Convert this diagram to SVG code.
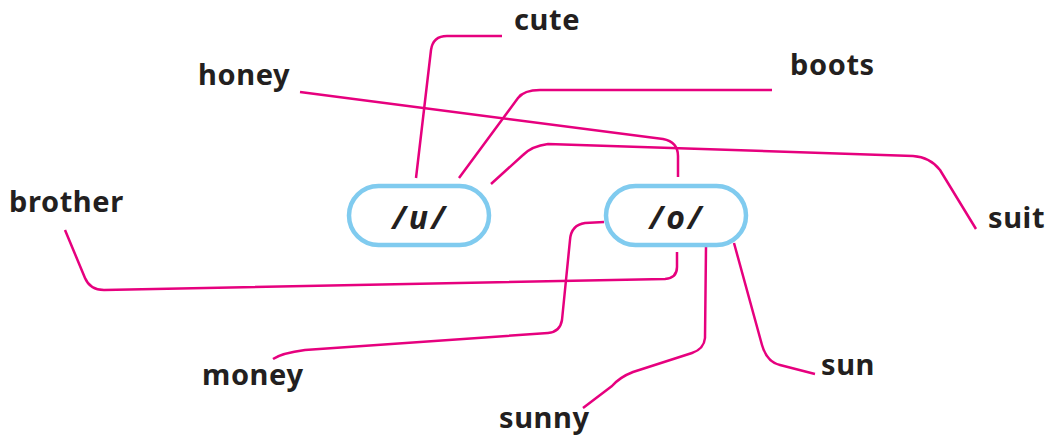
<svg xmlns="http://www.w3.org/2000/svg" width="1051" height="441" viewBox="0 0 1051 441">
<style>
.lbl{font-family:"Noto Sans","Open Sans",sans-serif;font-weight:700;font-size:29px;letter-spacing:0.6px;fill:#231f20}
.ph{font-family:"Noto Sans","Open Sans",sans-serif;font-weight:700;font-style:italic;font-size:32px;fill:#231f20;text-anchor:middle;letter-spacing:3px}
.pill{fill:#fff;stroke:#80cbef;stroke-width:4.5}
.c{fill:none;stroke:#e6007e;stroke-width:2.5;stroke-linecap:butt;stroke-linejoin:round}
</style>
<rect width="1051" height="441" fill="#fff"/>
<g id="connectors">
<path class="c" d="M416,178 L431,50 Q433,36 447,36 L502,36"/>
<path class="c" d="M459,178 L518,98 Q524,90 540,90 L772,90"/>
<path class="c" d="M491,184 L523,155 Q532,146 548,144 L913,156 Q930,157 940,170 L976,229"/>
<path class="c" d="M300,92 L663,139 Q678,142 678,156 L678,177"/>
<path class="c" d="M65,230 L85,278 Q90,290 104,290 L665,279 Q677,278 677,267 L677,252"/>
<path class="c" d="M604,222 L585,223 Q571,225 570,240 L562,320 Q560,332 548,333 L305,350 Q282,353 273,359"/>
<path class="c" d="M706,247 L705,338 Q704,349 692,353 L633,372 Q620,377 612,386 L583,408"/>
<path class="c" d="M734,243 L762,345 Q767,362 780,365 L815,374"/>
</g>
<g id="node-u">
<rect class="pill" x="349" y="186" width="140" height="59" rx="29.5"/>
<text class="ph" x="420" y="229">/u/</text>
</g>
<g id="node-o">
<rect class="pill" x="606" y="186" width="140" height="59" rx="29.5"/>
<text class="ph" x="677" y="229">/o/</text>
</g>
<g id="label-cute"><text class="lbl" x="514" y="30">cute</text></g>
<g id="label-honey"><text class="lbl" x="198" y="85">honey</text></g>
<g id="label-boots"><text class="lbl" x="790" y="75">boots</text></g>
<g id="label-brother"><text class="lbl" x="9" y="212">brother</text></g>
<g id="label-suit"><text class="lbl" x="988" y="228">suit</text></g>
<g id="label-money"><text class="lbl" x="202" y="385">money</text></g>
<g id="label-sunny"><text class="lbl" x="499" y="428">sunny</text></g>
<g id="label-sun"><text class="lbl" x="821" y="375">sun</text></g>
</svg>
